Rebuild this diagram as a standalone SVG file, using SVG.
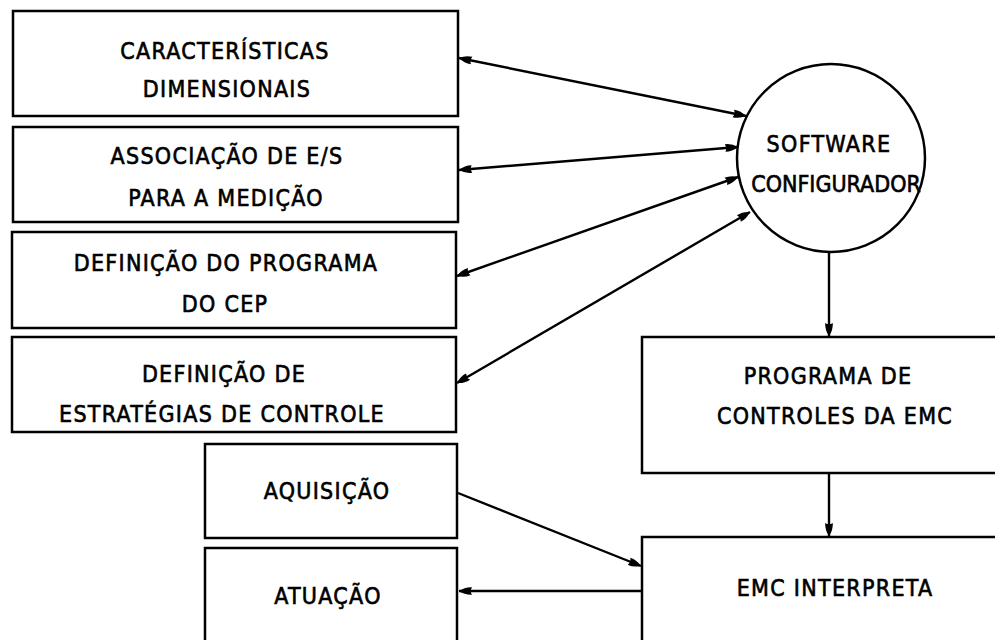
<svg xmlns="http://www.w3.org/2000/svg" width="995" height="640" viewBox="0 0 995 640">
<defs>
<style>
.box{fill:#fff;stroke:#000;stroke-width:2.5}
.t{font-family:"DejaVu Sans Condensed","DejaVu Sans","Liberation Sans",sans-serif;font-size:23px;letter-spacing:1.3px;text-anchor:middle;fill:#000;stroke:#000;stroke-width:0.6}
.c{fill:none;stroke:#000;stroke-width:2.4}
</style>
<marker id="ah" markerUnits="userSpaceOnUse" markerWidth="14" markerHeight="10" refX="13" refY="5" orient="auto-start-reverse">
<path d="M0,1.2 Q7,0.8 13,5 Q7,9.2 0,8.8 Q2.5,5 0,1.2 z" fill="#000"/>
</marker>
</defs>
<rect width="995" height="640" fill="#fff"/>
<g id="n1"><rect class="box" x="13" y="11" width="445" height="105"/>
<text class="t" x="225" y="59">CARACTERÍSTICAS</text><text class="t" x="227" y="97">DIMENSIONAIS</text></g>
<g id="n2"><rect class="box" x="13" y="127" width="445" height="95"/>
<text class="t" x="227" y="164">ASSOCIAÇÃO DE E/S</text><text class="t" x="226" y="206">PARA A MEDIÇÃO</text></g>
<g id="n3"><rect class="box" x="12" y="232" width="444" height="96"/>
<text class="t" x="226" y="271">DEFINIÇÃO DO PROGRAMA</text><text class="t" x="225" y="312">DO CEP</text></g>
<g id="n4"><rect class="box" x="12" y="337" width="444" height="95"/>
<text class="t" x="224" y="382">DEFINIÇÃO DE</text><text class="t" x="222" y="422">ESTRATÉGIAS DE CONTROLE</text></g>
<g id="n5"><rect class="box" x="205" y="444" width="252" height="94"/>
<text class="t" x="327" y="499">AQUISIÇÃO</text></g>
<g id="n6"><rect class="box" x="205" y="548" width="252" height="110"/>
<text class="t" x="328" y="604">ATUAÇÃO</text></g>
<g id="n7"><circle class="box" cx="831" cy="158" r="94"/>
<text class="t" x="829" y="152">SOFTWARE</text><text class="t" x="836" y="192" style="letter-spacing:0">CONFIGURADOR</text></g>
<g id="n8"><rect class="box" x="642" y="337" width="400" height="136"/>
<text class="t" x="828" y="384">PROGRAMA DE</text><text class="t" x="835" y="424">CONTROLES DA EMC</text></g>
<g id="n9"><rect class="box" x="642" y="537" width="400" height="130"/>
<text class="t" x="835" y="596">EMC INTERPRETA</text></g>
<g id="connectors">
<line class="c" x1="459" y1="58" x2="746" y2="116" marker-start="url(#ah)" marker-end="url(#ah)"/>
<line class="c" x1="459" y1="170" x2="738" y2="147" marker-start="url(#ah)" marker-end="url(#ah)"/>
<line class="c" x1="457" y1="276" x2="738" y2="177" marker-start="url(#ah)" marker-end="url(#ah)"/>
<line class="c" x1="457" y1="383" x2="750" y2="212" marker-start="url(#ah)" marker-end="url(#ah)"/>
<line class="c" x1="829" y1="252" x2="829" y2="336" marker-end="url(#ah)"/>
<line class="c" x1="829" y1="473" x2="829" y2="536" marker-end="url(#ah)"/>
<line class="c" x1="458" y1="493" x2="641" y2="566" marker-end="url(#ah)"/>
<line class="c" x1="642" y1="591" x2="459" y2="591" marker-end="url(#ah)"/>
</g>
</svg>
